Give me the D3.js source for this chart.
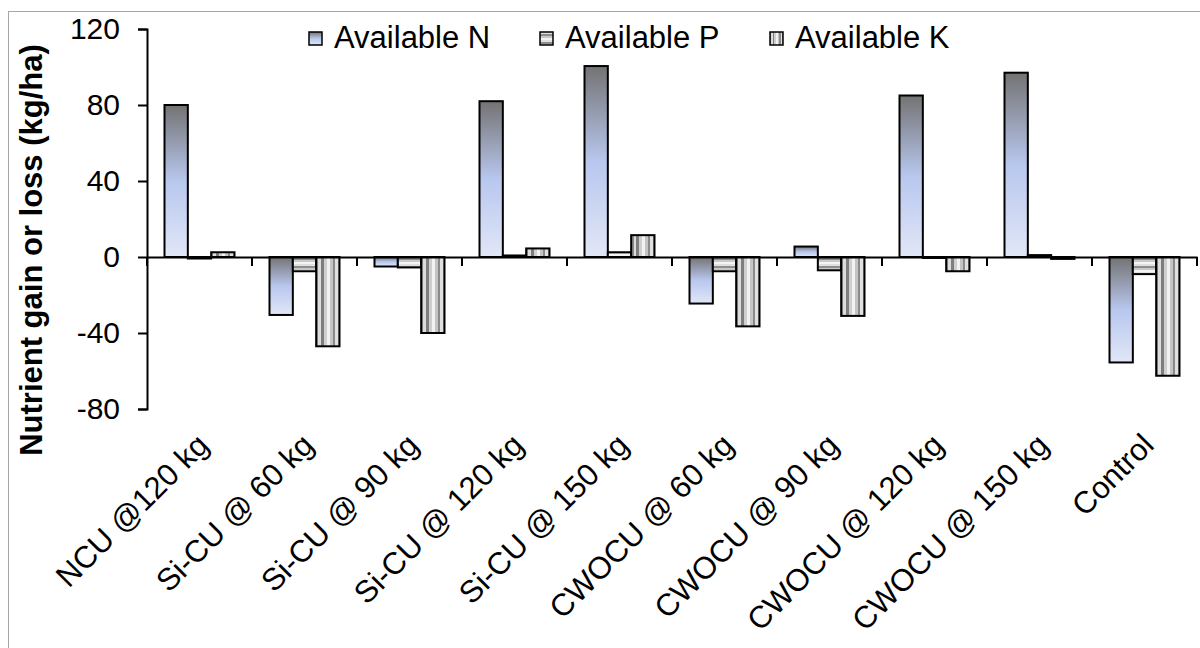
<!DOCTYPE html>
<html>
<head>
<meta charset="utf-8">
<script src="https://cdn.jsdelivr.net/npm/d3@7"></script>
<style>
  body { margin: 0; background: #fff; }
  svg { display: block; font-family: "Liberation Sans", Arial, sans-serif; }
</style>
</head>
<body>
<svg id="chart" width="1200" height="648"></svg>
<script>
const categories = [
  "NCU @120 kg", "Si-CU @ 60 kg", "Si-CU @ 90 kg", "Si-CU @ 120 kg", "Si-CU @ 150 kg",
  "CWOCU @ 60 kg", "CWOCU @ 90 kg", "CWOCU @ 120 kg", "CWOCU @ 150 kg", "Control"
];
const seriesNames = ["Available N", "Available P", "Available K"];
const availableN = [80, -30.5, -5, 82, 100.5, -24.5, 5.5, 85, 97, -55.5];
const availableP = [-0.8, -7.5, -5.5, 0.8, 2.5, -7.5, -7, -0.5, 1, -9];
const availableK = [2.5, -47, -40, 4.5, 11.5, -36.5, -31, -7.5, -1, -62.5];
const yTicks = [-80, -40, 0, 40, 80, 120];

const series = [availableN, availableP, availableK];
const fills = ["url(#gradN)", "url(#stripeP)", "url(#stripeK)"];

const svg = d3.select("#chart");

// chart border (runs off the bottom/right of the picture)
svg.append("rect")
  .attr("x", 8.5).attr("y", 11.5)
  .attr("width", 1300).attr("height", 800)
  .attr("fill", "none").attr("stroke", "#a6a6a6").attr("stroke-width", 1);

const defs = svg.append("defs");

// N: dark grey at top to pale blue at bottom
const gN = defs.append("linearGradient").attr("id", "gradN")
  .attr("x1", 0).attr("y1", 0).attr("x2", 0).attr("y2", 1);
gN.append("stop").attr("offset", "0%").attr("stop-color", "#737373");
gN.append("stop").attr("offset", "50%").attr("stop-color", "#b8c7ee");
gN.append("stop").attr("offset", "100%").attr("stop-color", "#e2e7f7");

// P: horizontal grey stripes
const pP = defs.append("pattern").attr("id", "stripeP")
  .attr("patternUnits", "userSpaceOnUse").attr("width", 10).attr("height", 8);
[["#e0e0e0", 0, 2], ["#8e8e8e", 2, 2], ["#c8c8c8", 4, 2], ["#f4f4f4", 6, 2]].forEach(s => {
  pP.append("rect").attr("x", 0).attr("y", s[1]).attr("width", 10).attr("height", s[2]).attr("fill", s[0]);
});

// K: vertical grey stripes across each bar
const gK = defs.append("linearGradient").attr("id", "stripeK")
  .attr("x1", 0).attr("y1", 0).attr("x2", 1).attr("y2", 0);
const kStops = [
  [0, "#8c8c8c"], [0.1, "#8c8c8c"], [0.1, "#dcdcdc"], [0.22, "#dcdcdc"],
  [0.22, "#7e7e7e"], [0.32, "#7e7e7e"], [0.32, "#cfcfcf"], [0.45, "#cfcfcf"],
  [0.45, "#f2f2f2"], [0.6, "#f2f2f2"], [0.6, "#c4c4c4"], [0.72, "#c4c4c4"],
  [0.72, "#8a8a8a"], [0.82, "#8a8a8a"], [0.82, "#e0e0e0"], [0.92, "#e0e0e0"],
  [0.92, "#a0a0a0"], [1, "#a0a0a0"]
];
kStops.forEach(s => gK.append("stop").attr("offset", s[0]).attr("stop-color", s[1]));

const x = d3.scaleBand().domain(categories).range([147, 1197]).paddingInner(0).paddingOuter(0);
const xInner = d3.scaleBand().domain(d3.range(3)).range([0, x.bandwidth()])
  .paddingInner(0).paddingOuter(0.75);
const y = d3.scaleLinear().domain([-80, 120]).range([409, 29]);

// bars
categories.forEach((c, i) => {
  const g = svg.append("g").attr("transform", `translate(${x(c)},0)`);
  g.selectAll("rect")
    .data(series.map((s, k) => ({ k, v: s[i] })))
    .join("rect")
    .attr("x", d => xInner(d.k))
    .attr("width", xInner.bandwidth())
    .attr("y", d => y(Math.max(0, d.v)))
    .attr("height", d => Math.abs(y(d.v) - y(0)))
    .attr("fill", d => fills[d.k])
    .attr("stroke", "#000")
    .attr("stroke-width", 2);
});

// y axis
const yAxis = d3.axisLeft(y).tickValues(yTicks).tickSize(9).tickSizeOuter(9).tickPadding(18)
  .tickFormat(d => String(d));
const yg = svg.append("g").attr("transform", "translate(147,0)").call(yAxis);
yg.select(".domain").attr("stroke-width", 2);
yg.selectAll(".tick line").attr("stroke-width", 2);
yg.selectAll(".tick text").attr("font-size", 30).attr("fill", "#000")
  .attr("font-family", "'Liberation Sans', Arial, sans-serif");

// x axis along zero
const xAxis = d3.axisBottom(x).tickSize(9).tickSizeOuter(0).tickFormat("");
const xg = svg.append("g").attr("transform", `translate(0,${y(0)})`).call(xAxis);
xg.select(".domain").attr("stroke-width", 2);
xg.selectAll(".tick").attr("transform", d => `translate(${x(d)},0)`);
// extra tick at right end
xg.append("line").attr("x1", 1197).attr("x2", 1197).attr("y1", 0).attr("y2", 9)
  .attr("stroke", "#000").attr("stroke-width", 2);
xg.selectAll(".tick line").attr("stroke-width", 2);

// category labels, rotated, below plot
svg.append("g").selectAll("text")
  .data(categories)
  .join("text")
  .attr("transform", d => `translate(${x(d) + x.bandwidth() / 2 + 11},447) rotate(-45)`)
  .attr("text-anchor", "end")
  .attr("font-size", 31)
  .attr("fill", "#000")
  .text(d => d);

// y title
svg.append("text")
  .attr("transform", "translate(42,250) rotate(-90)")
  .attr("text-anchor", "middle")
  .attr("font-size", 31)
  .attr("font-weight", "bold")
  .text("Nutrient gain or loss (kg/ha)");

// legend
const legendX = [309, 540, 770];
const lg = svg.append("g").selectAll("g")
  .data(seriesNames)
  .join("g")
  .attr("transform", (d, i) => `translate(${legendX[i]},32)`);
lg.append("rect").attr("width", 13).attr("height", 13)
  .attr("fill", (d, i) => fills[i]).attr("stroke", "#000").attr("stroke-width", 1.5);
lg.append("text").attr("x", 25).attr("y", 16).attr("font-size", 31).text(d => d);
</script>
</body>
</html>
